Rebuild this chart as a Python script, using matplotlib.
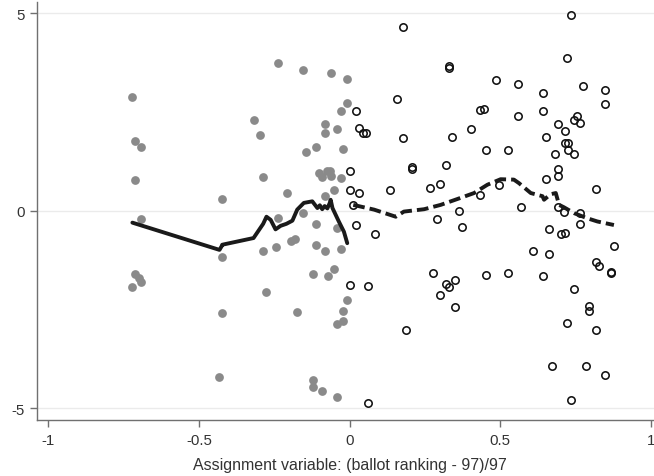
import matplotlib
matplotlib.use("Agg")
from matplotlib import pyplot as plt

plt.rcParams['font.family'] = ['Liberation Sans', 'DejaVu Sans']
plt.rcParams['axes.unicode_minus'] = False

# below the cutoff (filled grey dots)
left_x = [-0.721, -0.711, -0.691, -0.711, -0.691, -0.711, -0.700, -0.691, -0.721,
          -0.423, -0.423, -0.423, -0.432,
          -0.319, -0.299, -0.288, -0.289, -0.277, -0.246, -0.237, -0.237, -0.207,
          -0.193, -0.183, -0.176, -0.155, -0.154, -0.144,
          -0.113, -0.113, -0.113, -0.123, -0.123, -0.123,
          -0.102, -0.093, -0.093, -0.083, -0.083, -0.082, -0.083, -0.072,
          -0.065, -0.061, -0.061, -0.076, -0.051, -0.051,
          -0.042, -0.042, -0.042, -0.042, -0.030, -0.030, -0.030,
          -0.021, -0.021, -0.021, -0.010, -0.010, -0.010]
left_y = [2.88, 1.78, 1.62, 0.77, -0.20, -1.60, -1.71, -1.81, -1.92,
          0.29, -1.18, -2.59, -4.20,
          2.29, 1.91, 0.86, -1.03, -2.06, -0.91, 3.74, -0.19, 0.45,
          -0.76, -0.72, -2.57, 3.57, -0.05, 1.48,
          1.62, -0.34, -0.86, -1.59, -4.28, -4.47,
          0.97, 0.85, -4.56, 2.21, 1.96, 0.38, -1.01, -1.66,
          1.00, 0.88, 3.48, 1.00, 0.52, -1.48,
          2.08, -0.44, -2.88, -4.71, 2.52, 0.83, -0.97,
          1.57, -2.54, -2.79, 3.33, 2.72, -2.25]

# above the cutoff (hollow circles)
right_x = [0.177, 0.734, 0.722, 0.330, 0.330, 0.485, 0.558, 0.640, 0.775, 0.847,
           0.847, 0.156, 0.021, 0.032, 0.043, 0.053, 0.433, 0.446, 0.558, 0.640,
           0.755, 0.745, 0.765, 0.691, 0.714, 0.177, 0.341, 0.403, 0.650, 0.714,
           0.725, 0.723, 0.745, 0.682, 0.454, 0.527, 0.206, 0.206, 0.320, 0.001,
           0.691, 0.691, 0.650, 0.134, 0.268, 0.300, 0.001, 0.032, 0.433, 0.496,
           0.817, 0.012, 0.362, 0.567, 0.289, 0.691, 0.712, 0.765, 0.372, 0.021,
           0.083, 0.764, 0.661, 0.700, 0.713, 0.878, 0.610, 0.661, 0.817, 0.826,
           0.868, 0.868, 0.278, 0.454, 0.527, 0.640, 0.320, 0.330, 0.351, 0.299,
           0.351, 0.001, 0.062, 0.744, 0.795, 0.795, 0.722, 0.816, 0.186, 0.671,
           0.784, 0.847, 0.062, 0.734]
right_y = [4.66, 4.97, 3.86, 3.66, 3.62, 3.31, 3.22, 2.99, 3.15, 3.06,
           2.71, 2.84, 2.52, 2.10, 1.98, 1.98, 2.55, 2.59, 2.39, 2.54,
           2.39, 2.31, 2.23, 2.21, 2.02, 1.84, 1.86, 2.06, 1.86, 1.72,
           1.72, 1.53, 1.44, 1.45, 1.53, 1.53, 1.11, 1.06, 1.15, 1.00,
           1.06, 0.87, 0.81, 0.52, 0.59, 0.67, 0.52, 0.46, 0.41, 0.66,
           0.55, 0.15, -0.01, 0.10, -0.21, 0.09, -0.04, -0.06, -0.40, -0.36,
           -0.60, -0.33, -0.45, -0.59, -0.57, -0.88, -1.03, -1.09, -1.29, -1.39,
           -1.54, -1.57, -1.58, -1.62, -1.57, -1.65, -1.85, -1.93, -1.76, -2.14,
           -2.43, -1.88, -1.91, -1.99, -2.42, -2.55, -2.83, -3.01, -3.01, -3.94,
           -3.94, -4.17, -4.87, -4.80]

# smoothed fit, left side (solid) and right side (dashed)
fit_left_x = [-0.721, -0.432, -0.425, -0.423, -0.319, -0.287, -0.276, -0.262, -0.246,
              -0.229, -0.210, -0.190, -0.174, -0.152, -0.124, -0.107, -0.099, -0.091,
              -0.083, -0.074, -0.066, -0.063, -0.057, -0.036, -0.019, -0.008]
fit_left_y = [-0.30, -0.99, -0.90, -0.86, -0.69, -0.33, -0.15, -0.23, -0.47,
              -0.38, -0.33, -0.25, 0.03, 0.20, 0.24, 0.07, 0.14, 0.04,
              0.12, 0.06, 0.20, 0.28, 0.07, -0.27, -0.53, -0.82]
fit_right_x = [0.012, 0.081, 0.153, 0.180, 0.247, 0.302, 0.358, 0.413, 0.457, 0.501,
               0.545, 0.562, 0.601, 0.640, 0.645, 0.667, 0.684, 0.695, 0.711, 0.745,
               0.789, 0.822, 0.877]
fit_right_y = [0.15, 0.03, -0.15, -0.02, 0.04, 0.15, 0.30, 0.45, 0.66, 0.80,
               0.79, 0.70, 0.45, 0.37, 0.28, 0.42, 0.45, 0.15, 0.09, -0.06,
               -0.19, -0.27, -0.36]

y_ticks = [-5, 0, 5]
x_ticks = [-1, -0.5, 0, 0.5, 1]
x_labels = ['-1', '-0.5', '0', '0.5', '1']

fig = plt.figure(figsize=(6.54, 4.77), dpi=100)
ax = fig.add_axes([0.0566, 0.1174, 0.9434, 0.8763])

for yv in y_ticks:
    ax.axhline(yv, color='#ebebeb', lw=1.0, zorder=0)

ax.plot(left_x, left_y, 'o', color='#8a8a8a', ms=6.3, mew=0, zorder=2)
ax.plot(right_x, right_y, 'o', mfc='none', mec='#111111', ms=5.3, mew=1.15, zorder=2)

ax.plot(fit_left_x, fit_left_y, '-', color='#1a1a1a', lw=2.8, zorder=3,
        solid_joinstyle='round', solid_capstyle='round')
ax.plot(fit_right_x, fit_right_y, '-', color='#1a1a1a', lw=2.8, zorder=3,
        dashes=(3.0, 1.3))

ax.set_xlim(-1.0375, 1.01)
ax.set_ylim(-5.3, 5.29)

for side in ['top', 'right']:
    ax.spines[side].set_visible(False)
for side in ['left', 'bottom']:
    ax.spines[side].set_color('#707070')
    ax.spines[side].set_linewidth(1.0)

ax.set_yticks(y_ticks)
ax.set_yticklabels([str(v) for v in y_ticks])
ax.set_xticks(x_ticks)
ax.set_xticklabels(x_labels)
ax.tick_params(direction='out', length=5, width=1.0, color='#707070',
               labelsize=10.8, labelcolor='#333333', pad=4)

ax.set_xlabel('Assignment variable: (ballot ranking - 97)/97', fontsize=11.5,
              color='#333333', labelpad=6)
ax.xaxis.set_label_coords(0.5065, -0.088)

fig.savefig('out.png', dpi=100)
